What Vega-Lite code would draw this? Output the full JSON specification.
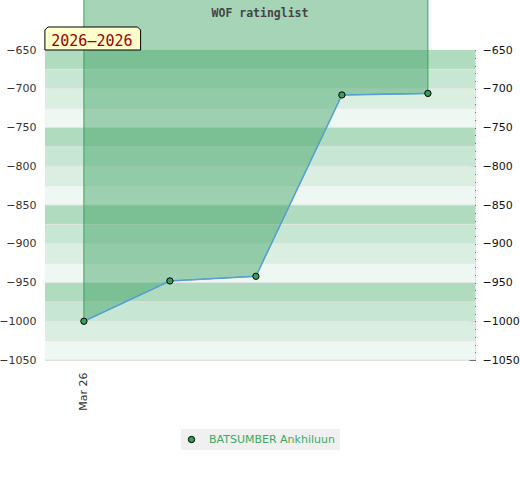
{
  "$schema": "https://vega.github.io/schema/vega-lite/v6.json",
  "width": 430,
  "height": 310,
  "autosize": "none",
  "padding": {"left": 45, "top": 50, "right": 45, "bottom": 120},
  "config": {
    "view": {"stroke": "#dddddd"},
    "font": "DejaVu Sans",
    "legend": {"layout": {"bottom": {"anchor": "middle"}}}
  },
  "datasets": {
    "bands": [
      {"lo": -675, "hi": -650, "k": 0},
      {"lo": -700, "hi": -675, "k": 1},
      {"lo": -725, "hi": -700, "k": 2},
      {"lo": -750, "hi": -725, "k": 3},
      {"lo": -775, "hi": -750, "k": 0},
      {"lo": -800, "hi": -775, "k": 1},
      {"lo": -825, "hi": -800, "k": 2},
      {"lo": -850, "hi": -825, "k": 3},
      {"lo": -875, "hi": -850, "k": 0},
      {"lo": -900, "hi": -875, "k": 1},
      {"lo": -925, "hi": -900, "k": 2},
      {"lo": -950, "hi": -925, "k": 3},
      {"lo": -975, "hi": -950, "k": 0},
      {"lo": -1000, "hi": -975, "k": 1},
      {"lo": -1025, "hi": -1000, "k": 2},
      {"lo": -1050, "hi": -1025, "k": 3}
    ],
    "ratings": [
      {"date": "2026-03-01", "rating": -1000, "player": "BATSUMBER Ankhiluun"},
      {"date": "2026-03-08", "rating": -948, "player": "BATSUMBER Ankhiluun"},
      {"date": "2026-03-15", "rating": -942, "player": "BATSUMBER Ankhiluun"},
      {"date": "2026-03-22", "rating": -708, "player": "BATSUMBER Ankhiluun"},
      {"date": "2026-03-29", "rating": -706, "player": "BATSUMBER Ankhiluun"}
    ]
  },
  "resolve": {
    "axis": {"y": "independent"},
    "scale": {"fill": "independent"},
    "legend": {"fill": "independent"}
  },
  "layer": [
    {
      "data": {"name": "bands"},
      "mark": {"type": "rect"},
      "encoding": {
        "y": {
          "field": "hi",
          "type": "quantitative",
          "scale": {"domain": [-1050, -650], "nice": false, "zero": false},
          "axis": {
            "orient": "left",
            "title": null,
            "tickCount": 8,
            "format": "d",
            "ticks": false,
            "domain": false,
            "grid": false,
            "labelPadding": 9,
            "labelFontSize": 11,
            "labelColor": "#333333",
            "labelFlush": false
          }
        },
        "y2": {"field": "lo"},
        "fill": {
          "field": "k",
          "type": "nominal",
          "scale": {"domain": [0, 1, 2, 3], "range": ["#b1dbbf", "#c8e6d4", "#dbeee2", "#eff7f2"]},
          "legend": null
        }
      }
    },
    {
      "data": {"name": "bands"},
      "mark": {"type": "rule", "color": "#e0e6e2", "strokeWidth": 1},
      "encoding": {
        "y": {
          "field": "lo",
          "type": "quantitative",
          "scale": {"domain": [-1050, -650], "nice": false, "zero": false},
          "axis": null
        }
      }
    },
    {
      "data": {"name": "ratings"},
      "mark": {"type": "area", "fill": "#39a05f", "fillOpacity": 0.45, "stroke": "#34a65a", "strokeWidth": 1},
      "encoding": {
        "x": {
          "field": "date",
          "type": "temporal",
          "title": null,
          "scale": {
            "type": "utc",
            "domain": [
              {"year": 2026, "month": 2, "date": 25, "hours": 20, "utc": true},
              {"year": 2026, "month": 4, "date": 1, "hours": 20, "utc": true}
            ]
          },
          "axis": {
            "values": [{"year": 2026, "month": 3, "date": 1, "utc": true}],
            "format": "%b %y",
            "labelAngle": -90,
            "ticks": false,
            "domain": false,
            "grid": false,
            "labelPadding": 12,
            "labelFontSize": 11,
            "labelColor": "#333333"
          }
        },
        "y": {
          "field": "rating",
          "type": "quantitative",
          "scale": {"domain": [-1050, -650], "nice": false, "zero": false},
          "axis": null
        },
        "y2": {"datum": -580}
      }
    },
    {
      "data": {"name": "ratings"},
      "mark": {"type": "line", "color": "#5aa0d8", "strokeWidth": 1.5},
      "encoding": {
        "x": {"field": "date", "type": "temporal", "title": null},
        "y": {
          "field": "rating",
          "type": "quantitative",
          "scale": {"domain": [-1050, -650], "nice": false, "zero": false},
          "axis": null
        }
      }
    },
    {
      "data": {"name": "ratings"},
      "mark": {"type": "point", "filled": true, "size": 40, "stroke": "#000000", "strokeWidth": 1, "opacity": 1},
      "encoding": {
        "x": {"field": "date", "type": "temporal", "title": null},
        "y": {
          "field": "rating",
          "type": "quantitative",
          "scale": {"domain": [-1050, -650], "nice": false, "zero": false},
          "axis": {
            "orient": "right",
            "title": null,
            "tickCount": 40,
            "format": "d",
            "labelExpr": "datum.value % 50 === 0 ? datum.label : ''",
            "labelOverlap": false,
            "labelFlush": false,
            "domain": false,
            "grid": false,
            "tickColor": "#000000",
            "tickSize": {"condition": {"test": "datum.value % 50 === 0", "value": -6}, "value": -4},
            "labelPadding": 13,
            "labelFontSize": 11,
            "labelColor": "#111111"
          }
        },
        "fill": {
          "field": "player",
          "type": "nominal",
          "scale": {"range": ["#33a158"]},
          "legend": {
            "title": null,
            "orient": "bottom",
            "direction": "horizontal",
            "fillColor": "#f0f0f0",
            "padding": 5,
            "symbolType": "circle",
            "symbolSize": 40,
            "symbolStrokeColor": "#000000",
            "symbolStrokeWidth": 1,
            "labelOffset": 12,
            "labelFont": "DejaVu Sans",
            "labelFontSize": 11,
            "labelColor": "#3caa64"
          }
        }
      }
    },
    {
      "data": {"values": [{"label": "2026–2026"}]},
      "mark": {
        "type": "point",
        "shape": "M-0.78,0L-0.78,-0.4L-0.72,-0.46L1.074,-0.46L1.134,-0.4L1.134,0Z",
        "size": 10000,
        "filled": true,
        "fill": "#ffffcc",
        "stroke": "#000000",
        "strokeWidth": 1,
        "opacity": 1
      },
      "encoding": {
        "x": {"datum": {"year": 2026, "month": 3, "date": 1, "utc": true}, "type": "temporal", "title": null},
        "y": {
          "datum": -650,
          "type": "quantitative",
          "scale": {"domain": [-1050, -650], "nice": false, "zero": false},
          "axis": null
        }
      }
    },
    {
      "data": {"values": [{"label": "2026–2026"}]},
      "mark": {
        "type": "text",
        "font": "DejaVu Sans Mono",
        "fontSize": 15,
        "color": "#990000",
        "align": "center",
        "baseline": "alphabetic",
        "dx": 8,
        "dy": -4
      },
      "encoding": {
        "x": {"datum": {"year": 2026, "month": 3, "date": 1, "utc": true}, "type": "temporal", "title": null},
        "y": {
          "datum": -650,
          "type": "quantitative",
          "scale": {"domain": [-1050, -650], "nice": false, "zero": false},
          "axis": null
        },
        "text": {"field": "label"}
      }
    },
    {
      "data": {"values": [{"title": "WOF ratinglist"}]},
      "mark": {
        "type": "text",
        "font": "DejaVu Sans Mono",
        "fontWeight": "bold",
        "fontSize": 11.5,
        "color": "#444444",
        "align": "center",
        "baseline": "alphabetic",
        "dy": -33
      },
      "encoding": {
        "x": {"datum": {"year": 2026, "month": 3, "date": 15, "hours": 8, "utc": true}, "type": "temporal", "title": null},
        "y": {
          "datum": -650,
          "type": "quantitative",
          "scale": {"domain": [-1050, -650], "nice": false, "zero": false},
          "axis": null
        },
        "text": {"field": "title"}
      }
    }
  ]
}
